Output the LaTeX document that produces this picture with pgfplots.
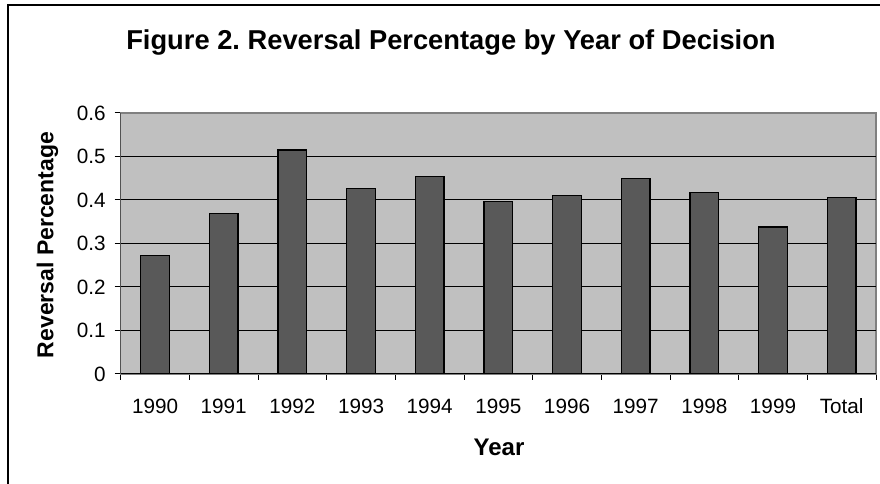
\documentclass[border=0pt]{standalone}
\usepackage{pgfplots}
\pgfplotsset{compat=1.18}
\usepackage{fontspec}
\setmainfont{Liberation Sans}
\frenchspacing
\definecolor{plotbg}{RGB}{192,192,192}
\definecolor{barfill}{RGB}{89,89,89}
\definecolor{frameg}{RGB}{128,128,128}
\begin{document}
\begin{tikzpicture}
\begin{axis}[
  at={(120.7bp,110bp)}, anchor=south west,
  scale only axis, width=755.3bp, height=261bp,
  xmin=-0.5, xmax=10.5, ymin=0, ymax=0.6,
  ybar, bar width=28.5bp,
  axis background/.style={fill=plotbg},
  axis line style={draw=frameg, line width=1.2bp},
  tick align=outside,
  xtick pos=left, ytick pos=left,
  xtick={0,1,2,3,4,5,6,7,8,9,10},
  xticklabels={1990,1991,1992,1993,1994,1995,1996,1997,1998,1999,Total},
  major x tick style={draw=none},
  minor xtick={-0.5,0.5,1.5,2.5,3.5,4.5,5.5,6.5,7.5,8.5,9.5,10.5},
  minor x tick style={black, line width=1bp},
  minor tick length=6bp,
  major tick length=6bp,
  ytick={0,0.1,0.2,0.3,0.4,0.5,0.6},
  yticklabels={0,0.1,0.2,0.3,0.4,0.5,0.6},
  major y tick style={black, line width=1bp},
  extra y ticks={0.1,0.2,0.3,0.4,0.5},
  extra y tick labels={},
  extra y tick style={grid=major, major tick length=0pt},
  grid style={black, line width=1bp},
  tick label style={font=\fontsize{20.7bp}{24bp}\selectfont},
  /pgf/number format/assume math mode=true,
  xticklabel style={text height=15bp, text depth=0bp, yshift=-15bp},
  yticklabel style={xshift=-5.5bp},
]
\addplot[fill=barfill, draw=black, line width=1.3bp] coordinates {
(0,0.272) (1,0.369) (2,0.515) (3,0.426) (4,0.454) (5,0.397)
(6,0.410) (7,0.450) (8,0.418) (9,0.338) (10,0.405)};
\draw[black, line width=1.2bp] (rel axis cs:0,1) -- (rel axis cs:0,0) -- (rel axis cs:1,0);
\end{axis}
\draw[line width=2bp] (8.3bp,0bp) -- (8.3bp,478.7bp) -- (880bp,478.7bp);
\node[anchor=base, font=\fontsize{27.3bp}{31bp}\selectfont\bfseries] at (451bp,434bp) {Figure 2. Reversal Percentage by Year of Decision};
\node[anchor=base, rotate=90, font=\fontsize{23bp}{26bp}\selectfont\bfseries] at (53.3bp,239bp) {Reversal Percentage};
\node[anchor=base, font=\fontsize{24bp}{28bp}\selectfont\bfseries] at (499bp,29bp) {Year};
\pgfresetboundingbox
\useasboundingbox (0bp,0bp) rectangle (880bp,484bp);
\end{tikzpicture}
\end{document}
